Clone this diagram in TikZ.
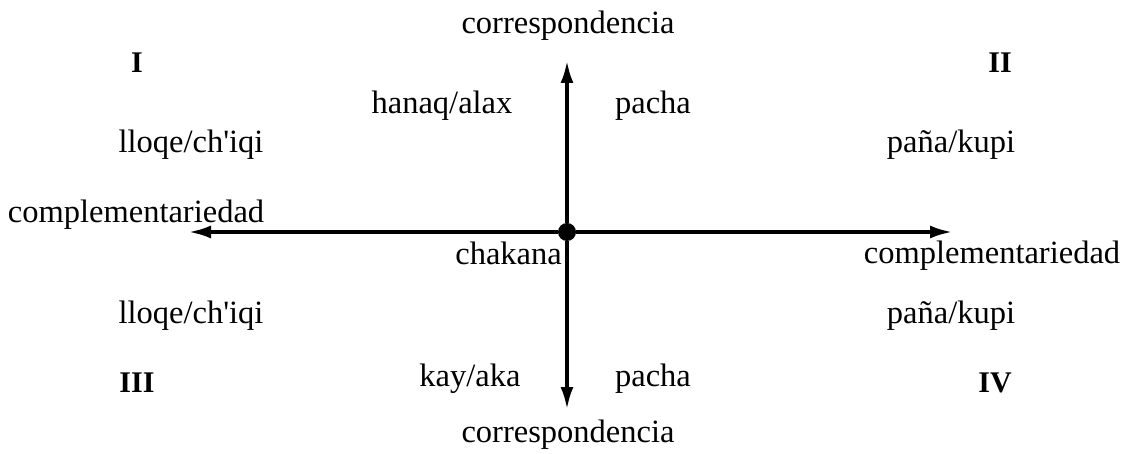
\documentclass[tikz,border=0pt]{standalone}
\usepackage{fontspec}
\setmainfont{Liberation Serif}
\usetikzlibrary{arrows.meta}
\begin{document}
\begin{tikzpicture}[x=1pt,y=-1pt,
  lbl/.style={inner sep=0pt,font=\fontsize{32.5}{38}\selectfont},
  num/.style={inner sep=0pt,font=\fontsize{30}{35}\selectfont\bfseries},
  axis/.style={line width=3.2pt,-{Latex[length=22pt,width=13pt]}}]
\useasboundingbox (0,0) rectangle (1127,454);
\node[circle,fill=black,inner sep=0pt,minimum size=18pt] (c) at (567,232) {};
\coordinate (L) at (189,232);
\coordinate (R) at (952,232);
\coordinate (T) at (567,61);
\coordinate (B) at (567,409);
\draw[axis] (c) -- (L);
\draw[axis] (c) -- (R);
\draw[axis] (c) -- (T);
\draw[axis] (c) -- (B);
\node[lbl] (ct) at (568,26) {correspondencia};
\node[lbl] (cb) at (568,435) {correspondencia};
\node[lbl] (cl) at (136,215) {complementariedad};
\node[lbl] (cr) at (992,256) {complementariedad};
\node[lbl,anchor=east] (ch) at (562,253) {chakana};
\node[num] (n1) at (137,63) {I};
\node[num] (n2) at (1000,63) {II};
\node[num] (n3) at (137,383) {III};
\node[num] (n4) at (995,383) {IV};
\node[lbl] (ha) at (442,106) {hanaq/alax};
\node[lbl] (pt) at (653,106) {pacha};
\node[lbl] (l1) at (191,145) {lloqe/ch\textquotesingle iqi};
\node[lbl] (p1) at (951,145) {paña/kupi};
\node[lbl] (l2) at (191,316) {lloqe/ch\textquotesingle iqi};
\node[lbl] (p2) at (951,316) {paña/kupi};
\node[lbl] (ka) at (470,379) {kay/aka};
\node[lbl] (pb) at (653,379) {pacha};
\end{tikzpicture}
\end{document}
